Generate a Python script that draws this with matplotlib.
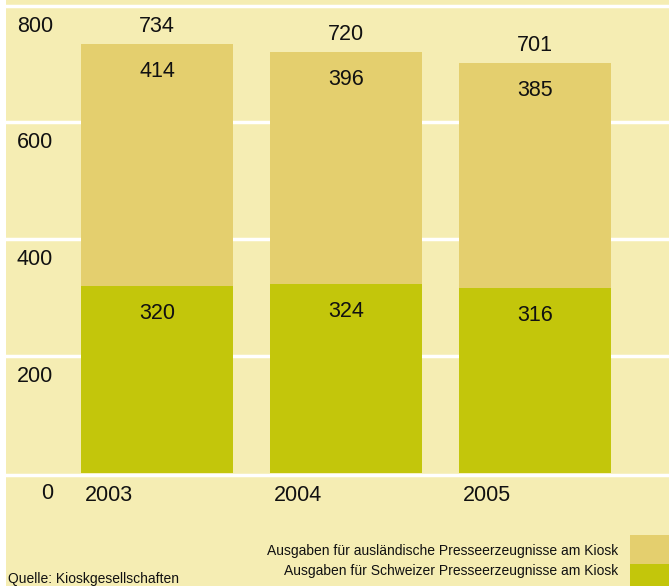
import matplotlib.pyplot as plt
from matplotlib.patches import Rectangle
import matplotlib.transforms as mtransforms

years = ['2003', '2004', '2005']
schweizer = [320, 324, 316]
auslaendisch = [414, 396, 385]
totals = [734, 720, 701]
yticks = [0, 200, 400, 600, 800]

bg = '#f5edb3'
col_top = '#e4cf6e'
col_bottom = '#c3c60b'
num_font = 'Liberation Sans'
narrow = ['Liberation Sans Narrow', 'Liberation Sans', 'DejaVu Sans']

W, H = 669, 586
fig = plt.figure(figsize=(W / 100, H / 100), dpi=100)
fig.patch.set_facecolor(bg)
# white strip on the left edge
fig.patches.append(Rectangle((0, 0), 6 / W, 1, transform=fig.transFigure,
                             facecolor='white', edgecolor='none'))

# axes from pixel x=6..669, y=0..473 (zero line at 473)
ax = fig.add_axes([6 / W, (H - 473) / H, (W - 6) / W, 473 / H])
ax.set_facecolor(bg)
ax.set_ylim(0, 800 * 473 / 467.5)
ax.set_xlim(-(157 - 6) / 189, (669 - 157) / 189)
for s in ax.spines.values():
    s.set_visible(False)
ax.set_xticks([])
ax.set_yticks([])

for v in yticks[1:]:
    ax.axhline(v, color='white', lw=2.5, zorder=0)

x = range(len(years))
ax.bar(x, schweizer, width=0.804, color=col_bottom, zorder=2)
ax.bar(x, auslaendisch, bottom=schweizer, width=0.804, color=col_top, zorder=2)

# zero line drawn just below the bars
fig.add_artist(plt.Line2D([6 / W, 1], [(H - 474.5) / H] * 2, transform=fig.transFigure,
                          color='white', lw=2.5))

# tick labels sit just below each gridline
trans = mtransforms.blended_transform_factory(fig.transFigure, ax.transData)
for v in yticks:
    ax.annotate(str(v), xy=(53 / W, v), xycoords=trans, xytext=(0, -10),
                textcoords='offset pixels', ha='right', va='top',
                fontsize=15.5, family=num_font, color='#111111')

for i in x:
    ax.annotate(years[i], xy=(i - 0.402, 0), xytext=(4, -12),
                textcoords='offset pixels', ha='left', va='top',
                fontsize=15.5, family=num_font, color='#111111', annotation_clip=False)
    ax.annotate(str(totals[i]), xy=(i, totals[i]), xytext=(0, 7),
                textcoords='offset pixels', ha='center', va='bottom',
                fontsize=15.5, family=num_font, color='#111111')
    ax.annotate(str(auslaendisch[i]), xy=(i, totals[i]), xytext=(0, -17),
                textcoords='offset pixels', ha='center', va='top',
                fontsize=15.5, family=num_font, color='#111111')
    ax.annotate(str(schweizer[i]), xy=(i, schweizer[i]), xytext=(0, -17),
                textcoords='offset pixels', ha='center', va='top',
                fontsize=15.5, family=num_font, color='#111111')

# legend at the bottom right
fig.patches.append(Rectangle((630 / W, (H - 564) / H), 39 / W, 29 / H,
                             transform=fig.transFigure, facecolor=col_top, edgecolor='none'))
fig.patches.append(Rectangle((630 / W, 0), 39 / W, 22 / H,
                             transform=fig.transFigure, facecolor=col_bottom, edgecolor='none'))
fig.text(618 / W, (H - 555) / H, 'Ausgaben für ausländische Presseerzeugnisse am Kiosk',
         ha='right', va='baseline', fontsize=10, family=narrow, color='#111111')
fig.text(618 / W, (H - 575) / H, 'Ausgaben für Schweizer Presseerzeugnisse am Kiosk',
         ha='right', va='baseline', fontsize=10, family=narrow, color='#111111')
fig.text(8 / W, (H - 583) / H, 'Quelle: Kioskgesellschaften',
         ha='left', va='baseline', fontsize=10, family=narrow, color='#111111')

fig.savefig('out.png', dpi=100, facecolor=bg)
